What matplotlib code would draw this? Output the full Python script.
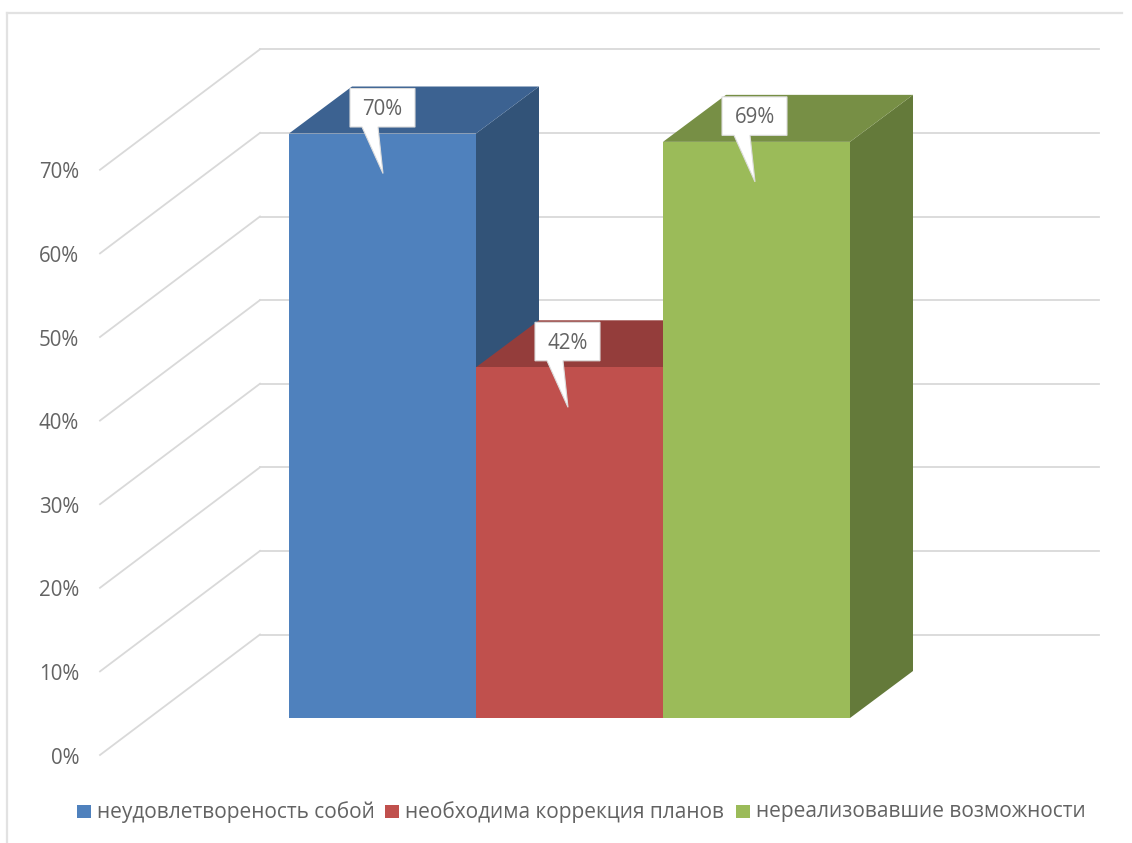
import matplotlib
matplotlib.use("Agg")
import matplotlib.pyplot as plt
from matplotlib.patches import Polygon, Rectangle

# values
categories = ['неудовлетвореность собой', 'необходима коррекция планов', 'нереализовавшие возможности']
values = [70, 42, 69]
front_colors = ['#4f81bd', '#c0504d', '#9bbb59']
top_colors = ['#3c6291', '#943d3b', '#778f45']
side_colors = ['#325378', '#7c3331', '#647a3a']
ticks = [0, 10, 20, 30, 40, 50, 60, 70]

W, H = 1132, 843
plt.rcParams['font.family'] = ['Open Sans', 'DejaVu Sans']

fig = plt.figure(figsize=(W / 100, H / 100), dpi=100)
ax = fig.add_axes([0, 0, 1, 1])
ax.set_xlim(0, W)
ax.set_ylim(H, 0)
ax.axis('off')

# geometry of the 3d box, in pixels
grid_unit = 8.36       # pixels per percent on the walls
floor_front = 755      # y of 0% on the front edge
depth_x, depth_y = 160, -120.5
wall_x0, wall_x1 = 261, 1099
bar_unit = 8.35
bar_base = 718
bar_x0 = 289
bar_w = 187
bar_dx, bar_dy = 63, -47

text_color = '#636363'
grid = '#d9d9d9'
for t in ticks:
    y = floor_front - t * grid_unit
    ax.plot([100, 100 + depth_x], [y, y + depth_y], color=grid, lw=1.3, zorder=1)
    ax.plot([wall_x0 - 1, wall_x1], [y + depth_y, y + depth_y], color=grid, lw=1.3, zorder=1)
    ax.text(79, y + 3, f'{t}%', ha='right', va='center', fontsize=14.8, color=text_color)

# bars left to right so a side gets overlapped by the next bar
for i in range(len(values)):
    x0 = bar_x0 + i * bar_w
    x1 = x0 + bar_w
    top = bar_base - values[i] * bar_unit
    ax.add_patch(Polygon([(x1, top), (x1 + bar_dx, top + bar_dy), (x1 + bar_dx, bar_base + bar_dy), (x1, bar_base)],
                         fc=side_colors[i], ec='none', zorder=2 + i))
    ax.add_patch(Polygon([(x0, top), (x0 + bar_dx, top + bar_dy), (x1 + bar_dx, top + bar_dy), (x1, top)],
                         fc=top_colors[i], ec='none', zorder=2 + i))
    ax.add_patch(Rectangle((x0, top), bar_w, bar_base - top, fc=front_colors[i], ec='none', zorder=2 + i))

# callout labels
label_shift = [2, 0, 0]
for i in range(len(values)):
    x0 = bar_x0 + i * bar_w + label_shift[i]
    top = bar_base - values[i] * bar_unit
    bx0, bx1 = x0 + 59, x0 + 124
    by0, by1 = top - 45, top - 6.5
    tip = (x0 + 92, top + 40)
    ax.add_patch(Polygon([(bx0, by0), (bx1, by0), (bx1, by1), (x0 + 87, by1), tip, (x0 + 71, by1), (bx0, by1)],
                         fc='white', ec='#dcdcdc', lw=0.8, zorder=10))
    ax.text((bx0 + bx1) / 2, (by0 + by1) / 2 + 1.5, f'{values[i]}%', ha='center', va='center',
            fontsize=14.8, color=text_color, zorder=11)

# legend
leg_x = [77, 385, 736]
for i in range(len(categories)):
    ax.add_patch(Rectangle((leg_x[i], 804.5), 14, 13.5, fc=front_colors[i], ec='none'))
    ax.text(leg_x[i] + 20, 812, categories[i], ha='left', va='center', fontsize=15, color=text_color)

# frame of the chart area
ax.plot([7, 7], [843, 13], color='#e2e2e2', lw=1.6)
ax.plot([7, 1122], [13, 13], color='#e2e2e2', lw=1.6)

fig.savefig('out.png', dpi=100)
